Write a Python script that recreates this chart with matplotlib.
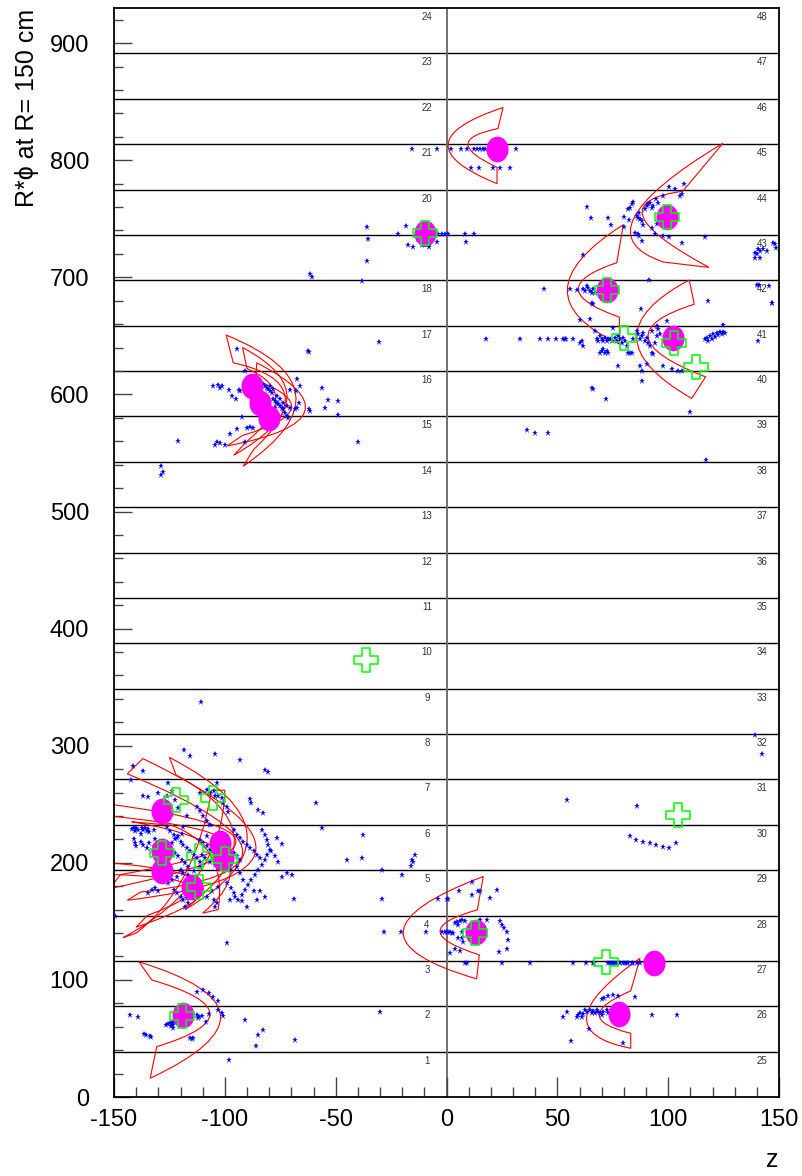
import numpy as np
import matplotlib.pyplot as plt
from matplotlib.path import Path
from matplotlib.patches import PathPatch
from matplotlib.transforms import Affine2D

plt.rcParams['font.family'] = ['Liberation Sans', 'DejaVu Sans']
plt.rcParams['axes.unicode_minus'] = False

# sector layout (R*phi at R = 150 cm)
n_sectors = 24
phi_max = 930.0
labels_left = list(range(1, 25))
labels_right = list(range(25, 49))

# hits (z, R*phi)
hits_top = [
    (-15.6, 810), (-4.3, 810), (2, 810), (6.5, 810), (9.2, 810), (12.4, 810), (13.8, 810),
    (15.1, 810), (16.5, 810), (17.4, 810), (31.3, 810), (11, 793), (14.7, 793), (21, 793),
    (24.1, 793), (28.6, 793),
    (-18.3, 744), (-22, 737), (-3.8, 737), (-2, 737), (-0.7, 737), (0.7, 737), (8.3, 737),
    (12.4, 737), (8.8, 730), (-17.4, 728), (-15, 726), (-4.3, 730), (-13, 733), (-11, 728),
    (-8, 726), (-6, 735),
    (-36, 743), (-35.4, 732.5), (-35.9, 713.7), (-38, 696.6), (-61.6, 702.6), (-60.7, 700),
    (-62.5, 636.8), (-30.4, 645),
]

hits_right = [
    (63.2, 760.4), (65, 751), (73, 750.4), (74.2, 744.4), (80, 751.9), (82.3, 748.7), (80.2, 743.3),
    (82.8, 759.6), (83.5, 762.4), (84.3, 764.4), (82, 758.1),
    (85.8, 752.4), (86.5, 750.7), (87.3, 749.6), (88, 748.1), (87, 755.3),
    (89.5, 758.1), (90.3, 761), (91, 762.4), (91.8, 763.8), (92.6, 759.6), (93.3, 761),
    (94.5, 766.7), (95.5, 763.8), (97.8, 769.5),
    (100.4, 777.5), (103.1, 775.8), (107.1, 780.1), (105.3, 769.5), (106.1, 771),
    (88.8, 744.4), (92.6, 742.5), (94.8, 745.3),
    (85, 737.6), (86.2, 736.8), (87, 735.3), (88, 731), (94, 736.8), (97.8, 735.3), (100.4, 734.5),
    (106.1, 729), (116.6, 734.8), (61.7, 718.8), (91.5, 697.4), (118.1, 679.7), (87.7, 672.6),
    (139.2, 721), (139.9, 719.7), (140.6, 723.9), (141.4, 722.5), (142.9, 723.9), (144.4, 722.5),
    (147.4, 729.6), (148.2, 728.2), (148.6, 725.4), (139.2, 716.8), (141.4, 716.8),
    (139.9, 693.4), (141, 693.4), (145.6, 692.6), (146.7, 678.4),
    (55.7, 689.7), (58.7, 689.2), (61.7, 689.7), (63.2, 692.6), (64, 691.2), (62.5, 688.3),
    (64.7, 688.3), (66.2, 689.7), (65.5, 686.3), (67, 686.3), (65.9, 677.5), (44, 689.7),
]

hits_sector41 = [
    (52.7, 647.6), (53.4, 647.6), (61, 645.6), (61.7, 641.3), (60.2, 644.2),
    (67, 654), (67.7, 647), (68.5, 645.6), (69.2, 649.8), (70, 647), (70.7, 645.6), (71.5, 648.5),
    (72.3, 645.6), (73, 647.6), (73.7, 647), (74.5, 645.6),
    (69.2, 635.6), (70, 637), (70.7, 638.5), (71.5, 635.6), (72.3, 637), (73, 635.6),
    (75.2, 657), (76, 648.5), (76.8, 645.6), (77.5, 649.8), (78.3, 647), (79, 644.2), (79.7, 648.5),
    (80.5, 645.6), (81.3, 641.3), (82, 635.6), (82.8, 635.6), (83.5, 635.6), (84.3, 647),
    (85.8, 654), (86.5, 651.3), (87.3, 647), (88, 649.8), (88.8, 652.6), (89.5, 645.6), (90.3, 648.5),
    (91, 644.2), (91.8, 641.3), (92.6, 635.6), (93.3, 634.2), (94, 644.2), (94.8, 649.8), (95.5, 655.5),
    (96.3, 651.3), (94.8, 658.4), (92.6, 654),
    (99.3, 662.6), (97.8, 624.2), (101.6, 621.4), (104.6, 620), (106.1, 620), (77.5, 624.2),
    (87.3, 624.2), (88, 620), (88, 611.4), (90.6, 625.6),
    (65.6, 605.7), (66.2, 604.3), (71.9, 596.3), (109.8, 585),
    (116.6, 647), (117.4, 648.5), (118.9, 649.8), (120.3, 651.3), (121.9, 652.6), (123.4, 653.2),
    (124.9, 653.6), (119.6, 647.6), (121.1, 649.4), (122.6, 650.4), (124.1, 651.5), (125.6, 652.1),
    (118.1, 645.6), (124.9, 659),
    (140.6, 645.6), (146.7, 677.8), (65.5, 678.4), (60.2, 663.5), (64.7, 664.7),
    (36.3, 570), (40, 566.7), (45.8, 566.7), (117, 543.6), (17.8, 647),
    (33.2, 647), (42.2, 647), (45.8, 647), (49.4, 647), (53.9, 647), (57.2, 647),
]

hits_left_mid = [
    (-94.6, 638.5), (-90.9, 620), (-105.5, 607.1), (-102.9, 607.7), (-102.2, 605.7), (-101.4, 607.1),
    (-98, 603.7), (-96.9, 598.5), (-95.1, 596.3), (-93.1, 602.8), (-93.5, 603.7),
    (-82.6, 608.5), (-81.9, 607.1), (-81.1, 605.7), (-80.4, 604.3), (-79.6, 602.8), (-78.8, 601.4),
    (-78.1, 595.7), (-77.4, 594.3), (-76.6, 592.9), (-75.9, 591.5), (-75.1, 590), (-74.3, 588.6),
    (-73.6, 587.2), (-72.9, 584.4), (-72.1, 581.5), (-71.4, 580.1), (-79.6, 607.1), (-78.1, 604.3),
    (-76.6, 598.5), (-75.1, 595.7), (-73.6, 592.9), (-72.1, 590), (-70.6, 588.6), (-77.4, 588.6),
    (-70.6, 603.4), (-67.9, 602.8), (-67.3, 612.8), (-66.1, 607.1), (-67.6, 588.6), (-68.3, 587.2),
    (-66.4, 592.3), (-61.9, 636.2), (-56.3, 605.7), (-53.3, 595.1), (-54.8, 588.6), (-48.8, 594.3),
    (-48.8, 582.1), (-62, 587.8), (-61.6, 585.8), (-39.8, 559.3),
    (-104.4, 556.4), (-103.4, 559.3), (-102.2, 558.1), (-99.9, 557), (-97.7, 565.8), (-94.6, 570.1),
    (-92.4, 581), (-90.1, 571.5), (-88.6, 572.4), (-87.1, 571.5),
    (-128.7, 539), (-127.8, 534), (-128.7, 531), (-121, 560), (-90.9, 559),
]

hits_left_low = [
    (-142, 229), (-141, 230), (-140.5, 227), (-140, 230), (-139, 228), (-138, 225), (-137.5, 230),
    (-137, 228), (-136, 230), (-135, 227), (-134.5, 229), (-134, 226), (-132, 228),
    (-141, 220), (-140.5, 217), (-140, 214.5), (-138, 218), (-137, 215), (-135, 212.5), (-134, 217),
    (-132, 214), (-131.5, 220), (-130, 215), (-128.5, 212.5), (-127, 211), (-125.5, 214), (-124, 217),
    (-122.5, 220), (-121, 222.5), (-119.5, 225),
    (-126, 230.5), (-124.7, 227), (-123, 224), (-121.7, 221), (-120, 218), (-118.7, 215.4), (-117, 212.5),
    (-115.7, 209.7), (-114, 207), (-112.7, 204), (-111, 201), (-124, 211), (-122.5, 208), (-121, 205.4),
    (-119.5, 202.5), (-118, 199.7), (-116.5, 196.8), (-120, 194), (-118.7, 191), (-121.7, 188),
    (-124, 185.5), (-125.5, 182.6),
    (-111, 219.6), (-109.7, 216.8), (-108, 214), (-106.7, 211), (-105, 208), (-103.7, 205.4), (-102, 202.5),
    (-100.7, 199.7), (-99, 196.8), (-97.7, 194), (-108, 222.5), (-105, 219.6), (-102, 214), (-99, 211),
    (-96, 208), (-94.7, 205.4), (-93, 202.5), (-110.4, 206.8), (-109, 204), (-106.7, 201), (-104.4, 198.3),
    (-103, 195.4), (-111, 196.8), (-114, 192.6), (-116.5, 189.7),
    (-96, 228), (-94.7, 224), (-93, 221), (-91.7, 218), (-90, 215.4), (-88.6, 212.5), (-87, 209.7),
    (-85.6, 206.8), (-84, 204), (-83.4, 228), (-82, 224), (-81, 219.6), (-80.4, 215.4), (-79.6, 211),
    (-81, 206.8), (-82, 202.5), (-83.4, 198.3), (-85, 194), (-86.4, 189.7), (-88, 185.5), (-89.4, 181.2),
    (-91, 177), (-92.4, 172.6), (-94, 168.4), (-95.4, 171.2), (-91.7, 185.5), (-93, 191), (-94.7, 196.8),
    (-76.6, 221), (-74.4, 216.2), (-79, 209.7), (-77.4, 205.4), (-76, 201), (-74.4, 188.3), (-72, 191),
    (-69.8, 189.7), (-69, 169), (-82, 171.2), (-84, 175.5), (-87, 175.5), (-85.6, 168.4), (-90, 162.6),
    (-92.4, 167),
    (-134.5, 174), (-133, 177), (-131.5, 178.3), (-130, 175.5), (-123, 177), (-121.7, 174), (-120, 171),
    (-118.7, 168.4), (-117, 169.8), (-115.7, 171), (-114, 172.6), (-108, 171), (-105, 168.4),
    (-103.7, 165.5), (-106, 175.5), (-103, 179.7), (-99, 182.6), (-97, 178.3), (-96, 174), (-97.7, 168.4),
    (-118, 162.6), (-116.5, 165.5), (-104.4, 162.6),
    (-130, 260), (-125.5, 268), (-124, 261), (-122.5, 254), (-137, 256.7), (-134.5, 256), (-111, 259.5),
    (-108, 262.4), (-106.7, 259.5), (-105, 261), (-103.7, 268), (-104.4, 256.7), (-103, 256.7),
    (-101.4, 255), (-100.7, 251), (-99, 248), (-98.4, 243.8), (-88.6, 254.4), (-88, 251), (-85, 245.3),
    (-82.6, 242.4), (-126, 256.7), (-121, 246.7), (-117, 239.6), (-118.7, 231), (-142.5, 271),
    (-141.3, 283), (-137, 278), (-118.3, 296.6), (-115.7, 291), (-104.4, 293), (-93, 287.4), (-82, 279),
    (-112.7, 248), (-111, 244), (-109.7, 239.6), (-108, 235.3), (-106.7, 232.4),
]

hits_scatter = [
    (-80.5, 277.8), (-58.9, 251.3), (-56.2, 229.9), (-37.7, 224), (-38.1, 204.3), (-44.9, 202.6),
    (-29.1, 194), (-15.6, 202.6), (-14.2, 206.8), (-16, 197.4), (-99, 131.6), (-110.7, 337.6),
    (-149.5, 155), (54.3, 253.8), (139.2, 309.4), (142.3, 293.2), (-30, 72.6),
    (85.9, 248.7), (82.8, 223), (85.5, 219.7), (88.6, 218), (91.8, 217.1), (94.5, 215.4),
    (97.6, 213.7), (100.4, 212.8), (103.5, 217.1),
]

hits_bottom_left = [
    (-139, 68.6), (-126.5, 61.5), (-125.5, 62.4), (-124.7, 63), (-124, 63.5), (-123.2, 64.1),
    (-122.5, 64.4), (-123.2, 61.3), (-124.4, 60.7), (-123.5, 58.7), (-112.7, 70.1), (-111.5, 68.6),
    (-110.4, 69.2), (-112, 67.3), (-107, 71), (-108.6, 64.4), (-102.9, 74.4), (-101.4, 71.5),
    (-100.9, 69.2), (-136.4, 53.6), (-135.7, 53), (-133.7, 52.4), (-133.3, 51), (-115.7, 50.7),
    (-114.9, 49.3), (-114.5, 50.2), (-98, 31.6), (-90.9, 65.8), (-143, 70), (-112.5, 89.7),
    (-109.8, 91.5), (-107.1, 88.9), (-105.3, 85.5), (-103, 82), (-82.8, 57.3), (-85, 53),
    (-68.3, 48.7), (-85.9, 43.6),
]

hits_bottom_center = [
    (-15, 201), (-20.2, 189.7), (-29.2, 169), (-28.2, 141.3), (-20.7, 141.3), (-9.4, 140.8),
    (-3.7, 169), (0, 169), (0.8, 169),
    (5.6, 175.5), (11.4, 172.6), (15.1, 175.5), (19.6, 169.8), (22.6, 176.9), (11.4, 183.2), (14.3, 175.5),
    (3.8, 149), (4.6, 149.8), (6.1, 150.4), (6.9, 151.3), (8.3, 150.4), (5.3, 147), (15.1, 151.3),
    (18.1, 151.3), (6.9, 141.3), (0.1, 140.8), (0.8, 140.8), (1.6, 140.8), (2.4, 140.4), (3.1, 140.4),
    (-0.7, 140.8), (-2.2, 140.8), (5.1, 136.2), (6.9, 136.2), (7.6, 132.3), (3.8, 126.3), (6.1, 125.1),
    (1.6, 122.8),
    (24.1, 150.4), (24.9, 147), (25.9, 144.2), (27.2, 141.3), (27.9, 134.2), (27.2, 126.2), (23.8, 124.2),
    (8.3, 114.3), (9.1, 114.8), (24.9, 114.8), (37.7, 114.8), (57.2, 114.3),
]

hits_bottom_right = [
    (62.8, 114.8), (66.2, 114.8), (66.7, 114.8), (73, 114.8), (73.7, 114.8), (74.5, 114.8),
    (75.2, 114.8), (76, 114.8), (76.8, 114.8), (78.3, 114.8), (79.7, 114.8), (80.5, 114.8),
    (81.3, 114.8), (82, 114.8), (83.5, 114.8), (84.3, 114.8), (85.8, 114.8), (87.3, 114.8),
    (70, 83.5), (71, 84.9), (73, 86.6), (75.2, 87.2), (77.5, 86.3), (85, 85.2),
    (52.7, 68.1), (54.5, 72.9), (58.7, 68.6), (59.4, 70.1), (60.2, 72.1), (61, 68.6), (61.7, 70.9),
    (62.5, 74.4), (63.2, 72.9), (64.7, 74.4), (65.5, 71.5), (66.2, 73.8), (67, 72.1), (67.7, 74.4),
    (68.5, 72.9), (69.2, 71.5), (70, 70.1), (70.7, 72.9), (72.3, 74.4), (73, 71.5), (92.6, 70.1),
    (104.1, 70.1), (64.4, 58.1), (56, 48.1), (79.7, 46.4),
]

# reconstructed clusters (magenta) and matched segments (green)
cluster_z = [22.9, -9.7, 99.6, 72.3, 102.3, -87.9, -84.1, -79.9,
             -128.5, -128.5, -128.5, -102.2, -100.7, -114.9, -118.7, 13.2, 93.6, 78.0]
cluster_rphi = [810, 738.2, 751.9, 689.2, 648.4, 607.1, 592.9, 580.1,
                243.9, 209.7, 192.6, 216.8, 204.0, 179.7, 70.1, 140.8, 114.8, 70.7]

segment_z = [-9.7, 99.6, 72.3, 80.2, 102.8, 112.5, -122, -105.5, -111.5, -128.5,
             -99.9, -111.5, -119.4, -36.3, 104.4, 12.9, 71.9]
segment_rphi = [738.2, 751.9, 689.2, 648.4, 644.2, 623.4, 253.8, 255.3, 205.4, 208.3,
                203.2, 179.7, 69.2, 373.5, 241, 139.9, 115.6]

# roads: outer top, outer apex, outer bottom, inner bottom, inner apex, inner top
road_a = [(25.5, 845), (0.7, 813.7), (22.8, 780), (22.8, 794), (9.7, 813.7), (23.2, 827)]
road_b = [(124.7, 814.5), (84.6, 751), (98, 713), (118.4, 708.5), (88.6, 752), (106.6, 773.5)]
road_c = [(79.8, 745), (54.5, 689.7), (78, 643), (78, 666), (59.5, 689.7), (76.8, 712.5)]
road_d = [(109.5, 697.7), (85.8, 648.4), (110.6, 596.6), (116.9, 615), (91, 648.4), (111.8, 677)]
road_e1 = [(-99.4, 650.7), (-68, 600), (-91.7, 538.7), (-87, 553), (-73, 600), (-96.2, 627)]
road_e2 = [(-85.6, 627), (-64, 585), (-99, 556), (-92, 565), (-70, 588), (-86, 612)]
road_e3 = [(-92, 640), (-72, 596), (-96, 548), (-90, 560), (-77, 596), (-90, 622)]
road_f1 = [(-137, 289), (-86, 211), (-144, 168), (-138, 175), (-92, 211), (-144, 276)]
road_f2 = [(-152, 250), (-95, 218), (-152, 178), (-147, 190), (-101, 218), (-152, 240)]
road_f3 = [(-142, 235), (-100, 205), (-110, 157), (-103, 160), (-106, 205), (-124, 232)]
road_f4 = [(-146, 136), (-112, 190), (-100, 262), (-106, 262), (-118, 190), (-140, 140)]
road_f5 = [(-125, 290), (-90, 225), (-118, 160), (-112, 170), (-96, 225), (-122, 275)]
road_f6 = [(-152, 200), (-110, 180), (-140, 145), (-135, 155), (-116, 180), (-152, 190)]
road_g = [(-138.7, 115.4), (-102, 70), (-133.7, 16), (-130.7, 43), (-106.7, 71.5), (-133, 100)]
road_h = [(16.6, 188.3), (-19.5, 141.3), (13.6, 100.9), (14.8, 121.4), (-2.9, 141.3), (13.9, 159.8)]
road_i = [(87.3, 118.5), (63.2, 68.6), (83.1, 41.6), (83.1, 54.4), (68.9, 70), (83.1, 90.6)]
roads = [road_a, road_b, road_c, road_d, road_e1, road_e2, road_e3, road_f1, road_f2,
         road_f3, road_f4, road_f5, road_f6, road_g, road_h, road_i]


def road_path(r):
    otop, oapex, obot, ibot, iapex, itop = [np.array(p, float) for p in r]
    c_out = 2 * oapex - (otop + obot) / 2
    c_in = 2 * iapex - (ibot + itop) / 2
    verts = [otop, c_out, obot, ibot, c_in, itop, otop]
    codes = [Path.MOVETO, Path.CURVE3, Path.CURVE3, Path.LINETO,
             Path.CURVE3, Path.CURVE3, Path.CLOSEPOLY]
    return Path(verts, codes)


fig = plt.figure(figsize=(8.02, 11.76), dpi=100)
ax = fig.add_axes([114 / 802, 79 / 1176, 665 / 802, 1089 / 1176])
ax.set_xlim(-150, 150)
ax.set_ylim(0, phi_max)

# sector boundaries and labels
width = phi_max / n_sectors
for k in range(1, n_sectors):
    ax.axhline(k * width, color='black', lw=1.0, zorder=1)
ax.axvline(0, color='#707070', lw=1.4, zorder=1)
for k, (a, b) in enumerate(zip(labels_left, labels_right)):
    yl = (k + 1) * width - 7.7
    ax.text(-8.8, yl, str(a), fontsize=7, color='#333333', ha='center', va='center')
    ax.text(142.3, yl, str(b), fontsize=7, color='#333333', ha='center', va='center')

for r in roads:
    ax.add_patch(PathPatch(road_path(r), fill=False, edgecolor='red', lw=0.8, zorder=2))

all_hits = (hits_top + hits_right + hits_sector41 + hits_left_mid + hits_left_low
            + hits_scatter + hits_bottom_left + hits_bottom_center + hits_bottom_right)
hz, hy = zip(*all_hits)
ax.plot(hz, hy, ls='none', marker='*', ms=4.6, color='blue', mew=0, zorder=3)

ellipse = Path.unit_circle().transformed(Affine2D().scale(0.86, 1.0))
ax.plot(cluster_z, cluster_rphi, ls='none', marker=ellipse, ms=18.5, color='magenta',
        mew=0, zorder=4)

a = 0.3
cross = Path([(-a, 1), (a, 1), (a, a), (1, a), (1, -a), (a, -a), (a, -1), (-a, -1),
              (-a, -a), (-1, -a), (-1, a), (-a, a), (-a, 1)], closed=True)
ax.plot(segment_z, segment_rphi, ls='none', marker=cross, ms=17.5, mfc='none',
        mec='#00ff00', mew=1.1, zorder=5)

ax.set_yticks(np.arange(0, 901, 100))
ax.set_yticks(np.arange(0, 931, 20), minor=True)
ax.set_xticks(np.arange(-150, 151, 50))
ax.set_xticks(np.arange(-150, 151, 10), minor=True)
ax.tick_params(axis='both', which='both', direction='in', top=False, right=False,
               color='#444444', width=1.0)
ax.tick_params(axis='y', which='major', length=13, pad=18, labelsize=17)
ax.tick_params(axis='y', which='minor', length=6.5)
ax.tick_params(axis='x', which='major', length=14.4, pad=9, labelsize=17)
ax.tick_params(axis='x', which='minor', length=7.2)
for s in ax.spines.values():
    s.set_linewidth(1.3)

fig.text(27 / 802, 1 - 9 / 1176, 'R*ϕ at R= 150 cm', rotation=90, ha='center',
         va='top', fontsize=18)
fig.text(772 / 802, 1 - 1160 / 1176, 'z', ha='center', va='center', fontsize=18)

fig.savefig('out.png', dpi=100)
